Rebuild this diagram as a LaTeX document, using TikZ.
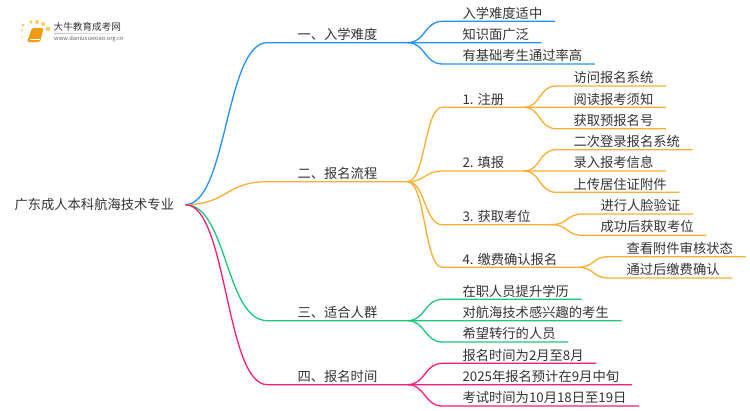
\documentclass[tikz,border=0pt]{standalone}
\usepackage{xcolor, fontspec}
\setmainfont{Noto Sans CJK SC}
\usepackage{tikz}
\usetikzlibrary{trees}
\definecolor{inkgrey}{HTML}{333333}
\definecolor{branchblue}{HTML}{2390FB}
\definecolor{branchorange}{HTML}{F7B033}
\definecolor{branchgreen}{HTML}{1CC878}
\definecolor{branchpink}{HTML}{FB1C7C}
\definecolor{bookorange}{HTML}{F29A12}
\definecolor{dotyellow}{HTML}{F9CF63}

\begin{document}
\begin{tikzpicture}
[
x=1pt, y=1pt,
grow'=right,
lead/.store in=\leadgap,
bow/.store in=\bowsize,
pad/.style={execute at end node={\hspace{#1}}},
every node/.style={text=inkgrey, inner xsep=0pt, inner ysep=2pt, anchor=south west,
	font=\fontsize{13.3}{16}\selectfont},
level 1/.style={level distance=283pt, sibling distance=0pt, lead=30pt, bow=42pt, parent anchor=east, growth parent anchor=west},
level 2/.style={level distance=165pt, sibling distance=21.33pt, lead=20pt, bow=18pt, parent anchor=south east, growth parent anchor=south west},
level 3/.style={sibling distance=21.33pt, lead=17pt, bow=18pt, parent anchor=south east, growth parent anchor=south west},
leaf/.style={pad=12.5pt},
edge from parent/.style={draw, line width=1.3pt},
edge from parent path={(\tikzparentnode\tikzparentanchor) .. controls +(\bowsize,0) and +(-\bowsize,0) ..
	([xshift=-\leadgap]\tikzchildnode.south west) -- (\tikzchildnode.south east)}]
\useasboundingbox (0,0) rectangle (750,-410);
% logo
\foreach \px/\py/\rad in {22/-37/0.9,23/-42/0.7,22/-30/1.2,23/-25/1.6,31/-22/1.9,37/-22/2,43/-24/2,48/-29/2.3}
	\fill[dotyellow] (\px,\py) circle (\rad);
\fill[bookorange, rounded corners=1.5pt] (32,-28) -- (43.5,-28) -- (40,-42) -- (27,-42) -- cycle;
\draw[white, line width=0.5pt] (29.5,-39.5) -- (40,-39.5);
\shade[left color=black!25, right color=white] (54,-33.2) rectangle (132,-33.8);
\node[anchor=west, inner ysep=0pt, font=\fontsize{9.6}{11}\selectfont] (logotitle) at (53.5,-27) {大牛教育成考网};
\node[anchor=west, inner ysep=0pt, text=black!60, font=\fontsize{5.75}{7}\selectfont] (logourl) at (54,-39) {www.daniuxuexiao.org.cn};
% mind map
\node[anchor=west, pad=11pt] (root) at (14.3,-204.67) {广东成人本科航海技术专业}
child[branchblue, yshift=162pt] { node[pad=30pt] (difficulty) {一、入学难度}
	child {node[leaf] (moderate) {入学难度适中}}
	child {node[leaf] (broad) {知识面广泛}}
	child {node[leaf] (passrate) {有基础考生通过率高}}
}
child[branchorange, yshift=23pt] { node[pad=30pt] (process) {二、报名流程}
	child[yshift=42.33pt] { node[pad=19pt] (register) {1. 注册} [level distance=111pt]
		child {node[leaf] (visit) {访问报名系统}}
		child {node[leaf] (notice) {阅读报考须知}}
		child {node[leaf] (prenum) {获取预报名号}}
	}
	child { node[pad=19pt] (fillin) {2. 填报} [level distance=111pt]
		child {node[leaf] (relogin) {二次登录报名系统}}
		child {node[leaf] (entry) {录入报考信息}}
		child {node[leaf] (upload) {上传居住证附件}}
	}
	child[yshift=-32.33pt] { node[pad=20pt] (seat) {3. 获取考位} [level distance=138pt]
		child {node[leaf] (face) {进行人脸验证}}
		child {node[leaf] (getseat) {成功后获取考位}}
	}
	child[yshift=-53.67pt] { node[pad=20pt] (payment) {4. 缴费确认报名} [level distance=164pt]
		child {node[leaf] (review) {查看附件审核状态}}
		child {node[leaf] (confirm) {通过后缴费确认}}
	}
}
child[branchgreen, yshift=-116pt] { node[pad=30pt] (crowd) {三、适合人群}
	child {node[leaf] (onjob) {在职人员提升学历}}
	child {node[leaf] (keen) {对航海技术感兴趣的考生}}
	child {node[leaf] (switch) {希望转行的人员}}
}
child[branchpink, yshift=-180pt] { node[pad=30pt] (dates) {四、报名时间}
	child {node[leaf] (window) {报名时间为2月至8月}}
	child {node[leaf] (plan) {2025年报名预计在9月中旬}}
	child {node[leaf] (exam) {考试时间为10月18日至19日}}
};
\end{tikzpicture}
\end{document}
